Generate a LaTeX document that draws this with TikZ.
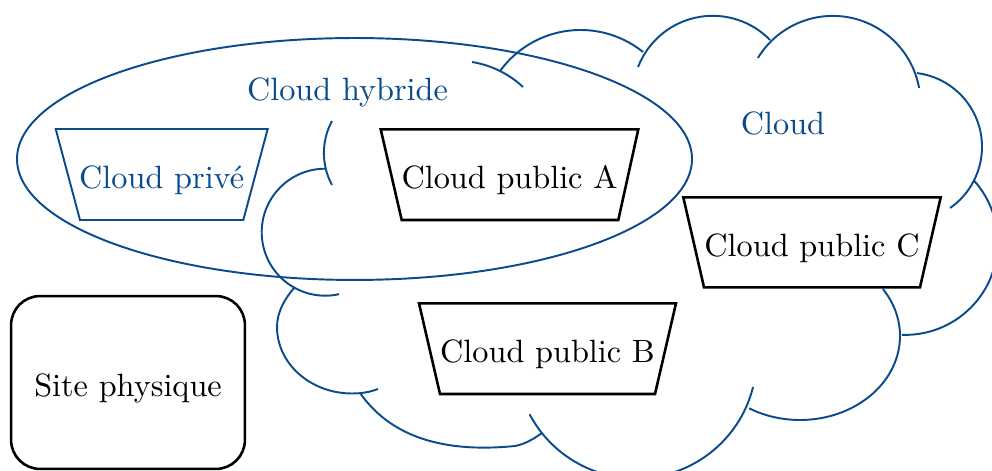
\documentclass[tikz,border=0pt]{standalone}
\usetikzlibrary{shapes.geometric}
\definecolor{cblue}{RGB}{10,75,140}
\begin{document}
\begin{tikzpicture}[x=0.31pt,y=-0.31pt,
  cl/.style={draw=cblue, semithick},
  trapblack/.style={draw=black, thick, line join=miter},
  trapblue/.style={draw=cblue, semithick, line join=miter},
  lbl/.style={anchor=base, inner sep=0pt},
  bluelbl/.style={lbl, text=cblue},
]
\useasboundingbox (0,0) rectangle (992,471);
% ---- cloud outline (separate puffs)
\begin{scope}
\clip (0,0) rectangle (992,471);
\draw[cl] ([shift={(-80.9:97.2)}]456.6,158) arc[start angle=-80.9, end angle=-46.9, radius=97.2];
\draw[cl] ([shift={(-144:99.6)}]580.6,129.6) arc[start angle=-144, end angle=-51.2, radius=99.6];
\draw[cl] ([shift={(-158.9:80)}]712.7,95.8) arc[start angle=-158.9, end angle=-44.2, radius=80];
\draw[cl] ([shift={(-148.6:87.7)}]832.8,103.6) arc[start angle=-148.6, end angle=-10.3, radius=87.7];
\draw[cl] ([shift={(-82.8:74.4)}]907.6,146.9) arc[start angle=-82.8, end angle=55.2, radius=74.4];
\draw[cl] ([shift={(-41.8:92.5)}]905.2,242.4) arc[start angle=-41.8, end angle=92, radius=92.5];
\draw[cl] ([shift={(-34:100 and 84)}]800,336) arc[start angle=-34, end angle=120.6, x radius=100, y radius=84];
\draw[cl] ([shift={(14:120.5)}]636.1,357.9) arc[start angle=14, end angle=152.1, radius=120.5];
\draw[cl] (360,393) .. controls (395,443) and (455,452) .. (515,446)
                    .. controls (525,444) and (532,440) .. (542,433);
\draw[cl] (295,287) .. controls (285,298) and (277,312) .. (277,327)
                    .. controls (277,364) and (311,393.5) .. (352,393.5)
                    .. controls (362,393.5) and (370,392) .. (378,389);
\draw[cl] ([shift={(270.7:63.5)}]325.2,232.2) arc[start angle=270.7, end angle=77.4, radius=63.5];
\draw[cl] ([shift={(208.3:67.5)}]391.4,153) arc[start angle=208.3, end angle=151.7, radius=67.5];
\end{scope}
% ---- hybrid cloud ellipse
\node[draw=cblue, semithick, ellipse, inner sep=0pt,
      minimum width=209.25pt, minimum height=75pt] (hyb) at (354.5,159) {};
% ---- labels
\node[bluelbl] (hyblbl) at (347.5,100.5) {Cloud hybride};
\node[bluelbl] (cloudlbl) at (783,134.3) {Cloud};
% ---- trapezoids
\draw[trapblue] (55.7,129) -- (267.7,129) -- (243.3,220) -- (80,220) -- cycle;
\node[bluelbl] (prive) at (161.7,188.3) {Cloud privé};
\draw[trapblack] (380.7,129.3) -- (638.3,129.3) -- (618.3,220) -- (401.7,220) -- cycle;
\node[lbl] (pubA) at (509.5,188.3) {Cloud public A};
\draw[trapblack] (683.3,197.3) -- (940.7,197.3) -- (920,287.3) -- (704,287.3) -- cycle;
\node[lbl] (pubC) at (812,256.7) {Cloud public C};
\draw[trapblack] (419,303.3) -- (676,303.3) -- (655,394) -- (440,394) -- cycle;
\node[lbl] (pubB) at (547.5,362.5) {Cloud public B};
% ---- physical site
\node[draw=black, thick, rounded corners=9pt, minimum width=72.5pt, minimum height=53.6pt,
      text height=8.4pt, text depth=0pt]
  (site) at (128,382.5) {Site physique};
\end{tikzpicture}
\end{document}
